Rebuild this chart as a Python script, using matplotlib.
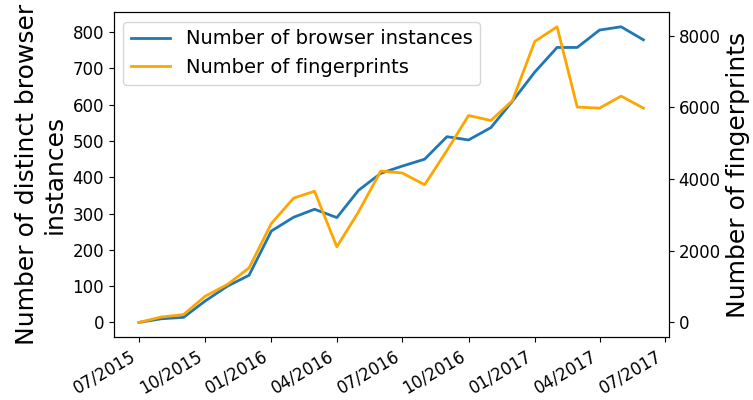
import matplotlib
matplotlib.use("Agg")
import matplotlib.pyplot as plt
import matplotlib.dates as mdates
import numpy as np
import pandas as pd

months = pd.date_range("2015-07-01", "2017-06-01", freq="MS")
browser_instances = [0, 10, 14, 59, 100, 130, 252, 290, 312, 289, 364, 411,
                     431, 450, 512, 503, 537, 610, 690, 758, 758, 806, 815, 779]
fingerprints = [0, 150, 220, 730, 1060, 1520, 2760, 3470, 3660, 2110, 3080, 4225,
                4170, 3840, 4800, 5775, 5635, 6190, 7840, 8250, 6010, 5980, 6315, 5980]

fig, ax = plt.subplots(figsize=(7.53, 4.0), dpi=100)
l1, = ax.plot(months, browser_instances, color="#1f77b4", lw=2, label="Number of browser instances")
ax.set_ylabel("Number of distinct browser\ninstances", fontsize=18)
ax2 = ax.twinx()
l2, = ax2.plot(months, fingerprints, color="orange", lw=2, label="Number of fingerprints")
ax2.set_ylabel("Number of fingerprints", fontsize=18)

ax.xaxis.set_major_locator(mdates.MonthLocator(bymonth=[1, 4, 7, 10]))
ax.xaxis.set_major_formatter(mdates.DateFormatter("%m/%Y"))
ax.tick_params(labelsize=12)
ax2.tick_params(labelsize=12)
for lab in ax.get_xticklabels():
    lab.set_rotation(30)
    lab.set_ha("right")
ax.legend(handles=[l1, l2], loc="upper left", fontsize=14)

fig.subplots_adjust(left=0.151, right=0.888, top=0.97, bottom=0.157)
fig.savefig("out.png", dpi=100)
